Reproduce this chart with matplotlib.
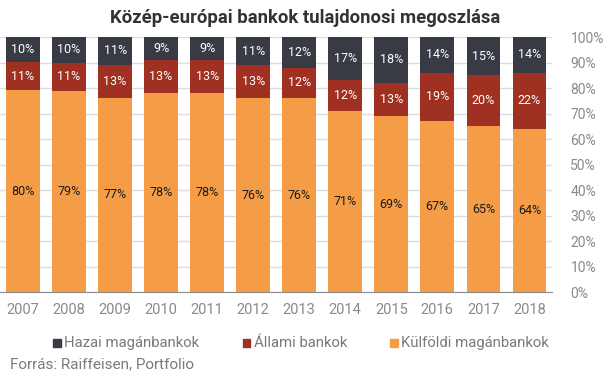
import matplotlib
matplotlib.use('Agg')
import matplotlib.pyplot as plt
from matplotlib.patches import Rectangle
import numpy as np

plt.rcParams['font.family'] = ['Roboto', 'DejaVu Sans']

# Adatok
evek = ['2007', '2008', '2009', '2010', '2011', '2012', '2013', '2014', '2015', '2016', '2017', '2018']
kulfoldi = [80, 79, 77, 78, 78, 76, 76, 71, 69, 67, 65, 64]
allami = [11, 11, 13, 13, 13, 13, 12, 12, 13, 19, 20, 22]
hazai = [10, 10, 11, 9, 9, 11, 12, 17, 18, 14, 15, 14]
jelmagyarazat = ['Hazai magánbankok', 'Állami bankok', 'Külföldi magánbankok']

c_hazai = '#383b43'
c_allami = '#9f3022'
c_kulf = '#f59c47'

W, H = 605, 375
fig = plt.figure(figsize=(W / 100, H / 100), dpi=100)
ax = fig.add_axes([0.0, 0.2213, 0.913, 0.68])

x = np.arange(len(evek))
k = np.array(kulfoldi, float)
a = np.array(allami, float)
h = np.array(hazai, float)
tot = k + a + h
kp, ap, hp = k / tot * 100, a / tot * 100, h / tot * 100

w = 0.73
ax.bar(x, kp, w, color=c_kulf, zorder=2)
ax.bar(x, ap, w, bottom=kp, color=c_allami, zorder=2)
ax.bar(x, hp, w, bottom=kp + ap, color=c_hazai, zorder=2)

# Címkék a szegmensek közepén
for i in x:
    ax.text(i, kp[i] / 2, f'{kulfoldi[i]}%', ha='center', va='center', fontsize=9, color='#1a1a1a', zorder=3)
    ax.text(i, kp[i] + ap[i] / 2, f'{allami[i]}%', ha='center', va='center', fontsize=9, color='white', zorder=3)
    ax.text(i, kp[i] + ap[i] + hp[i] / 2, f'{hazai[i]}%', ha='center', va='center', fontsize=9, color='white', zorder=3)

ax.set_xlim(-0.5, len(evek) - 0.5)
ax.set_ylim(0, 100)
ax.set_yticks(range(0, 101, 10))
ax.set_yticklabels([f'{v}%' for v in range(0, 101, 10)])
ax.yaxis.tick_right()
ax.set_xticks(x)
ax.set_xticklabels(evek)
ax.tick_params(axis='both', length=0, colors='#8a8a8a')
ax.tick_params(axis='x', labelsize=10.5, pad=8)
ax.tick_params(axis='y', labelsize=10, pad=13)
ax.grid(axis='y', color='#dcdcdc', linewidth=1, zorder=0)
for s in ['top', 'left', 'right']:
    ax.spines[s].set_visible(False)
ax.spines['bottom'].set_color('#8a8a8a')

fig.text(0.504, 0.952, 'Közép-európai bankok tulajdonosi megoszlása', ha='center', va='center',
         fontsize=13.3, fontweight='bold', color='#333333')

# Jelmagyarázat kézzel elhelyezve (pixelben)
for nev, col, px in zip(jelmagyarazat, [c_hazai, c_allami, c_kulf], [53, 243, 390]):
    fig.patches.append(Rectangle((px / W, 1 - 347 / H), 7.5 / W, 8 / H, color=col,
                                 transform=fig.transFigure, figure=fig))
    fig.text((px + 11) / W, 1 - 343 / H, nev, ha='left', va='center', fontsize=10.7, color='#7a7a7a')

fig.text(10 / W, 1 - 364 / H, 'Forrás: Raiffeisen, Portfolio', ha='left', va='center', fontsize=11, color='#7a7a7a')

fig.savefig('out.png', dpi=100)
